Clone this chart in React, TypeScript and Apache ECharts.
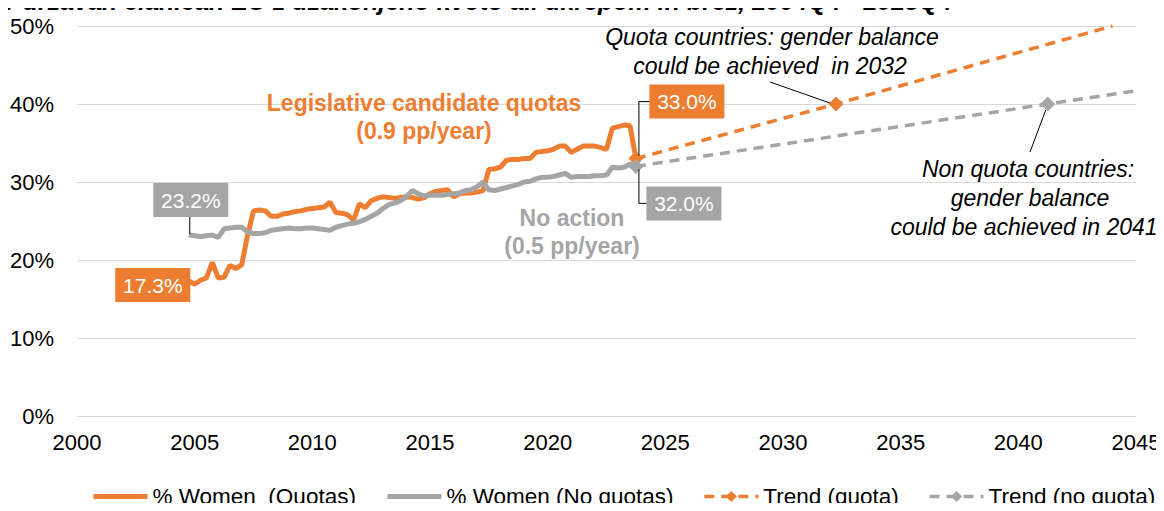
import React, { useEffect, useRef } from "react";
import * as echarts from "echarts";

const ORANGE = "#ED7D31";
const GRAY = "#A5A5A5";
const FONT = "'Liberation Sans', Arial, sans-serif";

const titleText = "v državah članicah EU z uzakonjeno kvoto ali ukrepom in brez, 2004Q4 - 2023Q4";
const seriesNames = ["% Women  (Quotas)", "% Women (No quotas)", "Trend (quota)", "Trend (no quota)"];

// first observation: 2004Q4, quarterly until 2023Q4
const firstQuarter = 2004.75;

const quotaShare = [
  17.3, 16.9, 17.4, 17.7, 19.7, 17.7, 17.8, 19.3, 18.9, 19.4,
  23.2, 26.3, 26.4, 26.3, 25.6, 25.6, 25.9, 26.0, 26.2, 26.3,
  26.5, 26.6, 26.7, 26.8, 27.4, 26.1, 26.0, 25.8, 25.1, 27.2,
  26.7, 27.6, 27.9, 28.1, 28.0, 27.9, 28.0, 28.1, 28.0, 27.8,
  28.0, 28.5, 28.8, 28.9, 29.0, 28.1, 28.5, 28.6, 28.6, 28.7,
  28.9, 31.6, 31.7, 31.9, 32.8, 32.9, 32.9, 33.0, 33.0, 33.8,
  33.9, 34.0, 34.2, 34.6, 34.6, 33.8, 34.2, 34.6, 34.6, 34.6,
  34.4, 34.2, 36.9, 37.1, 37.3, 37.2, 33.0,
];

const noQuotaShare = [
  23.2, 23.1, 23.0, 23.1, 23.2, 22.9, 24.0, 24.1, 24.2, 24.2,
  23.6, 23.4, 23.4, 23.5, 23.8, 23.9, 24.0, 24.1, 24.0, 24.0,
  24.1, 24.1, 24.0, 23.9, 23.8, 24.2, 24.4, 24.6, 24.7, 24.9,
  25.2, 25.6, 26.0, 26.6, 27.1, 27.3, 27.6, 28.1, 28.9, 28.5,
  28.2, 28.3, 28.3, 28.3, 28.4, 28.5, 28.6, 28.9, 29.0, 29.4,
  30.0, 29.0, 28.9, 29.1, 29.3, 29.5, 29.7, 30.0, 30.1, 30.4,
  30.6, 30.6, 30.7, 30.9, 31.1, 30.6, 30.7, 30.7, 30.7, 30.8,
  30.8, 30.9, 31.9, 31.8, 31.9, 32.3, 32.0,
];

const trendQuota: [number, number][] = [[2023.75, 33.0], [2032.25, 40.0], [2044.0, 50.0]];
const trendNoQuota: [number, number][] = [[2023.75, 32.0], [2041.25, 40.0], [2045.0, 41.7]];

const xTicks = { min: 2000, max: 2045, interval: 5 };
const yTicks = { min: 0, max: 50, interval: 10 };

const quarterX = quotaShare.map((_, i) => firstQuarter + i * 0.25);

export default function App() {
  const ref = useRef<HTMLDivElement>(null);
  useEffect(() => {
    const chart = echarts.init(ref.current!, null, { renderer: "svg" });
    const trendData = (arr: [number, number][]) =>
      arr.map((p, i) => ({ value: p, symbol: i === arr.length - 1 ? "none" : "diamond" }));
    const hiddenSymbol = { color: "rgba(0,0,0,0)", borderWidth: 0, opacity: 0 };
    const option: any = {
      animation: false,
      textStyle: { fontFamily: FONT },
      grid: { left: 77, right: 28, top: 26, bottom: 95 },
      xAxis: {
        type: "value",
        ...xTicks,
        axisLine: { show: false },
        axisTick: { show: false },
        splitLine: { show: false },
        axisLabel: {
          fontSize: 22,
          color: "#000",
          fontFamily: FONT,
          margin: 15,
          formatter: (v: number) => String(v),
        },
      },
      yAxis: {
        type: "value",
        ...yTicks,
        axisLine: { show: false },
        axisTick: { show: false },
        splitLine: { lineStyle: { color: "#D9D9D9", width: 1 } },
        axisLabel: { fontSize: 22, color: "#000", fontFamily: FONT, margin: 23, formatter: "{value}%" },
      },
      legend: {
        top: 485,
        left: 91,
        padding: 0,
        itemWidth: 54,
        itemHeight: 14,
        itemGap: 29,
        textStyle: { fontSize: 22.5, color: "#000", fontFamily: FONT },
        data: [
          { name: seriesNames[0], itemStyle: hiddenSymbol, lineStyle: { width: 5 } },
          { name: seriesNames[1], itemStyle: hiddenSymbol, lineStyle: { width: 5 } },
          { name: seriesNames[2], lineStyle: { width: 3.5 } },
          { name: seriesNames[3], lineStyle: { width: 3.5 } },
        ],
      },
      series: [
        {
          name: seriesNames[0],
          type: "line",
          data: quotaShare.map((v, i) => [quarterX[i], v]),
          symbol: "none",
          lineStyle: { color: ORANGE, width: 5 },
          itemStyle: { color: ORANGE },
          z: 3,
        },
        {
          name: seriesNames[1],
          type: "line",
          data: noQuotaShare.map((v, i) => [quarterX[i], v]),
          symbol: "none",
          lineStyle: { color: GRAY, width: 5 },
          itemStyle: { color: GRAY },
          z: 4,
        },
        {
          name: seriesNames[2],
          type: "line",
          data: trendData(trendQuota),
          symbol: "diamond",
          symbolSize: 15,
          lineStyle: { color: ORANGE, width: 3.5, type: [10, 7] },
          itemStyle: { color: ORANGE },
          z: 5,
        },
        {
          name: seriesNames[3],
          type: "line",
          data: trendData(trendNoQuota),
          symbol: "diamond",
          symbolSize: 15,
          lineStyle: { color: GRAY, width: 3.5, type: [10, 7] },
          itemStyle: { color: GRAY },
          z: 5,
        },
      ],
    };
    chart.setOption(option);

    const px = (x: number, y: number) => chart.convertToPixel({ gridIndex: 0 }, [x, y]) as number[];
    const last = quotaShare.length - 1;
    const oStart = px(quarterX[0], quotaShare[0]);
    const gStart = px(quarterX[0], noQuotaShare[0]);
    const oEnd = px(quarterX[last], quotaShare[last]);
    const gEnd = px(quarterX[last], noQuotaShare[last]);
    const oTarget = px(trendQuota[1][0], trendQuota[1][1]);
    const gTarget = px(trendNoQuota[1][0], trendNoQuota[1][1]);

    const box = (cx: number, cy: number, color: string, text: string) => ({
      type: "group",
      z: 100,
      children: [
        { type: "rect", z: 100, shape: { x: cx - 37.5, y: cy - 17, width: 75, height: 34 }, style: { fill: color } },
        {
          type: "text",
          z: 101,
          x: cx,
          y: cy,
          style: { text, fill: "#fff", font: `21px ${FONT}`, align: "center", verticalAlign: "middle" },
        },
      ],
    });
    const txt = (x: number, y: number, text: string, font: string, fill: string) => ({
      type: "text",
      z: 100,
      x,
      y,
      style: { text, fill, font, align: "center", verticalAlign: "middle" },
    });
    const leader = (points: number[][]) => ({
      type: "polyline",
      z: 99,
      shape: { points },
      style: { stroke: "#000", lineWidth: 1, fill: null },
    });
    const pct = (v: number) => `${v.toFixed(1)}%`;
    const italic = `italic 23px ${FONT}`;
    const bold = `bold 23px ${FONT}`;

    const g0Box = [gStart[0] + 2, gStart[1] - 35];
    const oEndBox = [oEnd[0] + 51, oEnd[1] - 57];
    const gEndBox = [gEnd[0] + 48, gEnd[1] + 37];

    chart.setOption({
      graphic: [
        {
          type: "text",
          x: 2,
          y: 1,
          style: { text: titleText, fill: "#000", font: `italic bold 25px ${FONT}`, verticalAlign: "middle", align: "left" },
        },
        leader([[gStart[0] + 1, g0Box[1] + 17], [gStart[0] + 1, gStart[1] - 1]]),
        box(oStart[0] - 36, oStart[1] + 4, ORANGE, pct(quotaShare[0])),
        box(g0Box[0], g0Box[1], GRAY, pct(noQuotaShare[0])),
        leader([[oEndBox[0] - 37, oEndBox[1]], [oEnd[0] + 3, oEndBox[1]], [oEnd[0] + 3, oEnd[1] - 3]]),
        box(oEndBox[0], oEndBox[1], ORANGE, pct(quotaShare[last])),
        leader([[gEnd[0] + 3, gEnd[1] + 3], [gEnd[0] + 3, gEndBox[1]], [gEndBox[0] - 37, gEndBox[1]]]),
        box(gEndBox[0], gEndBox[1], GRAY, pct(noQuotaShare[last])),
        txt(424, 103, "Legislative candidate quotas", bold, ORANGE),
        txt(424, 131, "(0.9 pp/year)", bold, ORANGE),
        txt(572, 218, "No action", bold, GRAY),
        txt(572, 246, "(0.5 pp/year)", bold, GRAY),
        txt(772, 37, "Quota countries: gender balance", italic, "#000"),
        txt(770, 66, "could be achieved  in 2032", italic, "#000"),
        leader([[770, 82], [oTarget[0] - 6, oTarget[1] - 1]]),
        txt(1028, 169, "Non quota countries:", italic, "#000"),
        txt(1030, 198, "gender balance", italic, "#000"),
        txt(1024, 227, "could be achieved in 2041", italic, "#000"),
        leader([[1030, 152], [gTarget[0] - 2, gTarget[1] + 6]]),
      ],
    });
    return () => chart.dispose();
  }, []);
  return <div ref={ref} style={{ width: 1164, height: 511, margin: -8 }} />;
}
